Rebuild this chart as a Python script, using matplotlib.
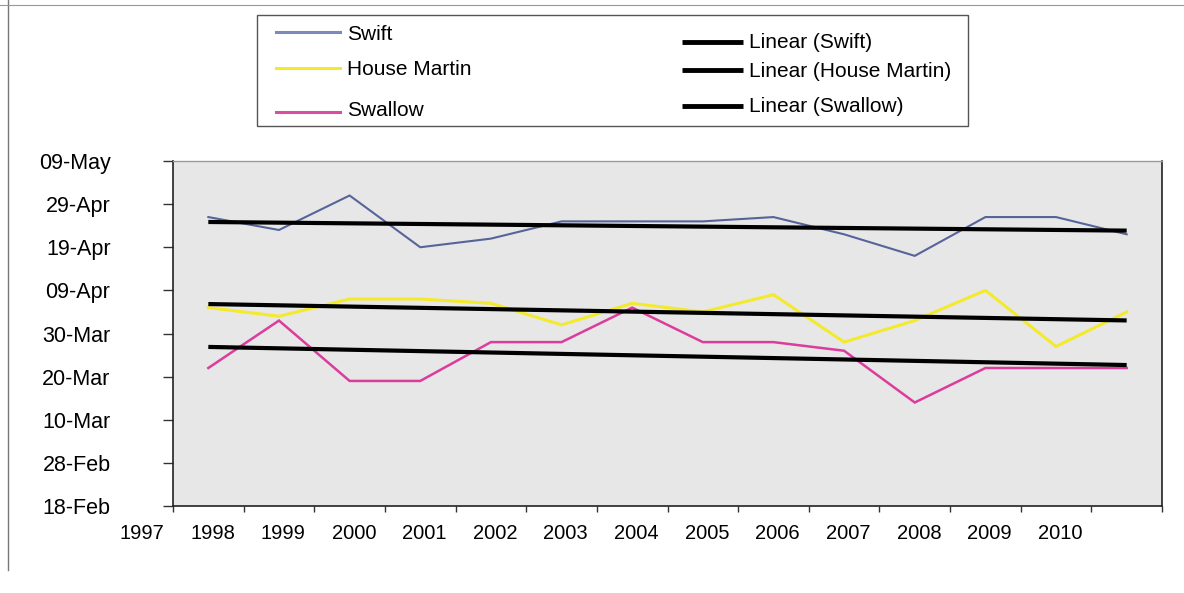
import matplotlib
matplotlib.use("Agg")
import matplotlib.pyplot as plt
from matplotlib.lines import Line2D
from matplotlib.patches import Rectangle
from datetime import datetime
import numpy as np

plt.rcParams["font.family"] = ["Liberation Sans", "DejaVu Sans"]

# First arrival dates per year
years = [1998, 1999, 2000, 2001, 2002, 2003, 2004, 2005, 2006, 2007, 2008, 2009, 2010, 2011]
swift = ["26-Apr", "23-Apr", "01-May", "19-Apr", "21-Apr", "25-Apr", "25-Apr",
         "25-Apr", "26-Apr", "22-Apr", "17-Apr", "26-Apr", "26-Apr", "22-Apr"]
house_martin = ["05-Apr", "03-Apr", "07-Apr", "07-Apr", "06-Apr", "01-Apr", "06-Apr",
                "04-Apr", "08-Apr", "28-Mar", "02-Apr", "09-Apr", "27-Mar", "04-Apr"]
swallow = ["22-Mar", "02-Apr", "19-Mar", "19-Mar", "28-Mar", "28-Mar", "05-Apr",
           "28-Mar", "28-Mar", "26-Mar", "14-Mar", "22-Mar", "22-Mar", "22-Mar"]

year_labels = [1997, 1998, 1999, 2000, 2001, 2002, 2003, 2004, 2005, 2006, 2007, 2008, 2009, 2010]
date_ticks = ["18-Feb", "28-Feb", "10-Mar", "20-Mar", "30-Mar", "09-Apr", "19-Apr", "29-Apr", "09-May"]


def day_of_year(s):
    return datetime.strptime(s + "-2001", "%d-%b-%Y").timetuple().tm_yday


series = [
    ("Swift", swift, "#56649a", 1.5, "#7d89bb"),
    ("House Martin", house_martin, "#f3ea2e", 2.2, "#f3ea2e"),
    ("Swallow", swallow, "#dc3c9c", 1.8, "#dc4ca4"),
]

W, H = 1184, 593
fig = plt.figure(figsize=(W / 100, H / 100), dpi=100)
fig.patch.set_facecolor("white")
ax = fig.add_axes([173 / W, 1 - 506 / H, (1162 - 173) / W, (506 - 161) / H])
ax.set_facecolor("#e7e7e7")

x = np.array(years, dtype=float)
for name, dates, color, lw, _ in series:
    y = np.array([day_of_year(d) for d in dates], dtype=float)
    ax.plot(x, y, color=color, lw=lw, solid_joinstyle="miter", zorder=3)
for name, dates, color, lw, _ in series:
    y = np.array([day_of_year(d) for d in dates], dtype=float)
    slope, icpt = np.polyfit(x, y, 1)
    ax.plot(x, slope * x + icpt, color="black", lw=3.0, zorder=4, solid_capstyle="butt")

ytick_pos = [day_of_year(d) for d in date_ticks]
ax.set_ylim(ytick_pos[0], ytick_pos[-1])
ax.set_yticks(ytick_pos)
ax.set_yticklabels(date_ticks, fontsize=15.5)
ax.tick_params(axis="y", direction="out", length=7, width=1, pad=38, color="#333333")

ax.set_xlim(years[0] - 0.5, years[-1] + 0.5)
ax.set_xticks(np.arange(years[0] - 0.5, years[-1] + 0.51, 1.0))
ax.set_xticklabels([])
ax.tick_params(axis="x", direction="out", length=4, width=1, color="#333333")
for yr in year_labels:
    ax.annotate(str(yr), xy=(yr, 0), xycoords=("data", "axes fraction"),
                xytext=(3, -19.5), textcoords="offset points",
                ha="center", va="center", fontsize=14.5, annotation_clip=False)

for side in ["left", "bottom", "right"]:
    ax.spines[side].set_color("#222222")
    ax.spines[side].set_linewidth(1.2)
ax.spines["top"].set_color("#9a9a9a")
ax.spines["top"].set_linewidth(1.0)


# legend box, laid out in pixel units from the top-left corner
def fx(px):
    return px / W


def fy(py):
    return 1 - py / H


fig.add_artist(Rectangle((fx(257), fy(126)), fx(968) - fx(257), fy(15) - fy(126),
                         transform=fig.transFigure, facecolor="white",
                         edgecolor="#555555", lw=1.0, zorder=5))
left_rows = [(32, 40), (68, 75), (112, 116)]      # (line y, text baseline)
right_rows = [(42, 48), (70, 77), (106, 112)]
for (name, _, _, _, lcolor), (ly, tb) in zip(series, left_rows):
    fig.add_artist(Line2D([fx(276), fx(340)], [fy(ly), fy(ly)], color=lcolor, lw=2.2,
                          transform=fig.transFigure, zorder=6))
    fig.text(fx(347), fy(tb), name, fontsize=15, ha="left", va="baseline", zorder=6)
for (name, _, _, _, _), (ly, tb) in zip(series, right_rows):
    fig.add_artist(Line2D([fx(682), fx(743)], [fy(ly), fy(ly)], color="black", lw=3.5,
                          transform=fig.transFigure, zorder=6, solid_capstyle="butt"))
    fig.text(fx(749), fy(tb), f"Linear ({name})", fontsize=15, ha="left",
             va="baseline", zorder=6)

# outer chart border
fig.add_artist(Line2D([fx(8), fx(8)], [fy(570), 1.0], color="#777777", lw=1.0,
                      transform=fig.transFigure))
fig.add_artist(Line2D([0.0, 1.0], [fy(5), fy(5)], color="#999999", lw=0.8,
                      transform=fig.transFigure))

fig.savefig("out.png", dpi=100)
